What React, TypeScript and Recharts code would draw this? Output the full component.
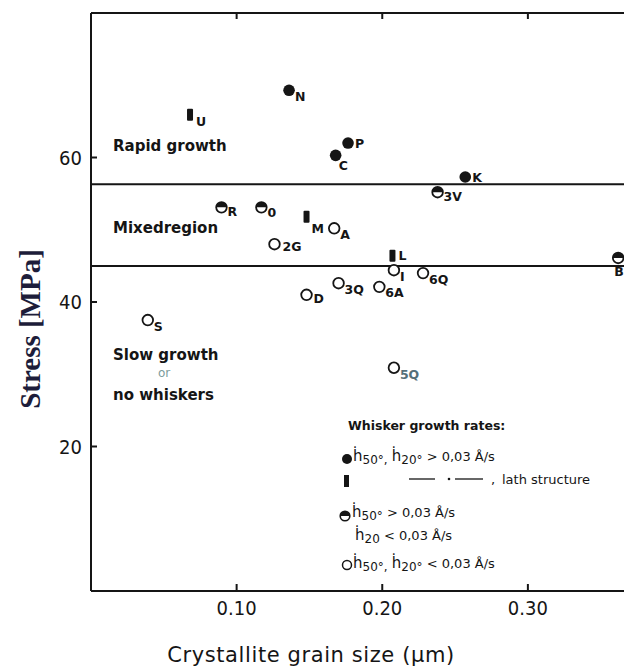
import React from 'react';
import { ScatterChart, Scatter, XAxis, YAxis, ReferenceLine } from 'recharts';

// grain size (um) vs stress (MPa)
const FILLED = [
  { id: 'N', size: 0.136, stress: 69.3 },
  { id: 'P', size: 0.1765, stress: 62.0 },
  { id: 'C', size: 0.168, stress: 60.3 },
  { id: 'K', size: 0.257, stress: 57.3 },
];
const LATH = [
  { id: 'U', size: 0.068, stress: 65.9 },
  { id: 'M', size: 0.148, stress: 51.8 },
  { id: 'L', size: 0.207, stress: 46.4 },
];
const HALF = [
  { id: '3V', size: 0.238, stress: 55.2 },
  { id: 'R', size: 0.0896, stress: 53.1 },
  { id: '0', size: 0.117, stress: 53.1 },
  { id: 'B', size: 0.362, stress: 46.1 },
];
const OPEN = [
  { id: 'A', size: 0.167, stress: 50.2 },
  { id: '2G', size: 0.126, stress: 48.0 },
  { id: 'I', size: 0.208, stress: 44.4 },
  { id: '6Q', size: 0.228, stress: 44.0 },
  { id: '3Q', size: 0.17, stress: 42.6 },
  { id: '6A', size: 0.198, stress: 42.1 },
  { id: 'D', size: 0.148, stress: 41.0 },
  { id: 'S', size: 0.039, stress: 37.5 },
  { id: '5Q', size: 0.208, stress: 30.9 },
];
const X_TICKS = [0.1, 0.2, 0.3];
const Y_TICKS = [20, 40, 60];
const REGION_BOUNDS = [56.3, 45.0];

const INK = '#151515';
const SANS = '"DejaVu Sans", sans-serif';
const COND = '"DejaVu Sans Condensed", "DejaVu Sans", sans-serif';

// label placement relative to the marker (default: lower right, like a subscript)
const LABEL_OFF: Record<string, [number, number]> = {
  P: [7, 5], K: [7, 5], L: [6, 4], C: [3, 15], M: [5, 16], B: [-4, 18],
  '2G': [8, 7], D: [7, 8], '6A': [6, 10], '3V': [6, 9], R: [6, 9], '0': [6, 10],
};

function Marker({ kind, cx, cy, payload }: any) {
  if (cx == null || cy == null) return null;
  const [dx, dy] = LABEL_OFF[payload.id] ?? [6, 11];
  let mark;
  if (kind === 'filled') mark = <circle cx={cx} cy={cy} r={5.8} fill={INK} />;
  else if (kind === 'lath') mark = <rect x={cx - 3} y={cy - 6} width={6} height={12} rx={1} fill={INK} />;
  else if (kind === 'half')
    mark = (
      <g>
        <circle cx={cx} cy={cy} r={5.3} fill="#fff" stroke={INK} strokeWidth={1.8} />
        <path d={`M ${cx - 5.3} ${cy} A 5.3 5.3 0 0 1 ${cx + 5.3} ${cy} Z`} fill={INK} />
      </g>
    );
  else mark = <circle cx={cx} cy={cy} r={5.3} fill="#fff" stroke={INK} strokeWidth={1.8} />;
  return (
    <g>
      {mark}
      <text x={cx + dx} y={cy + dy} fontFamily={SANS} fontSize={12.5} fontWeight="bold"
        fill={payload.id === '5Q' ? '#55707a' : INK}>
        {payload.id}
      </text>
    </g>
  );
}

function XTick({ x, y, payload }: any) {
  return (
    <g>
      <line x1={x} y1={y} x2={x} y2={y - 7} stroke={INK} strokeWidth={2} />
      <text x={x} y={y + 24} textAnchor="middle" fontFamily={COND} fontSize={20} fill={INK}>
        {payload.value.toFixed(2)}
      </text>
    </g>
  );
}

function TopTick({ x, y }: any) {
  return <line x1={x} y1={y} x2={x} y2={y + 6} stroke={INK} strokeWidth={2} />;
}

function YTick({ x, y, payload }: any) {
  return (
    <g>
      <line x1={x} y1={y} x2={x + 6} y2={y} stroke={INK} strokeWidth={2} />
      <text x={x - 9} y={y + 7} textAnchor="end" fontFamily={COND} fontSize={20} fill={INK}>
        {payload.value}
      </text>
    </g>
  );
}

// h-dot with subscript angle, as used in the legend
function Hdot({ sub }: { sub: string }) {
  return (
    <>
      <tspan fontSize={15}>ḣ</tspan>
      <tspan fontSize={12} dy={3}>{sub}</tspan>
      <tspan dy={-3}> </tspan>
    </>
  );
}

function Notes() {
  const t = { fontFamily: SANS, fill: INK } as const;
  const r = { fontFamily: SANS, fill: INK, fontWeight: 'bold', fontSize: 15 } as const;
  return (
    <svg width={624} height={672} style={{ position: 'absolute', left: 0, top: 0, pointerEvents: 'none' }}>
      <text x={113} y={151} {...r}>Rapid growth</text>
      <text x={113} y={233} {...r}>Mixedregion</text>
      <text x={113} y={360} {...r}>Slow growth</text>
      <text x={158} y={377} fontSize={12} fontFamily={SANS} fill="#7d9c9c">or</text>
      <text x={113} y={400} {...r}>no whiskers</text>

      <text x={348} y={430} fontSize={12.5} fontWeight="bold" {...t}>Whisker growth rates:</text>
      <circle cx={347} cy={459} r={5} fill={INK} />
      <text x={353} y={461} fontSize={13} {...t}>
        <Hdot sub="50°," />
        <tspan> </tspan>
        <Hdot sub="20°" />
        <tspan>&gt; 0,03 Å/s</tspan>
      </text>
      <rect x={344} y={475} width={5} height={12} fill={INK} />
      <line x1={409} y1={479} x2={435} y2={479} stroke={INK} strokeWidth={1.3} />
      <circle cx={449} cy={479} r={1.3} fill={INK} />
      <line x1={455} y1={479} x2={483} y2={479} stroke={INK} strokeWidth={1.3} />
      <text x={491} y={484} fontSize={13} {...t}>,</text>
      <text x={502} y={484} fontSize={13} {...t}>lath structure</text>
      <circle cx={345} cy={516} r={4.8} fill="#fff" stroke={INK} strokeWidth={1.6} />
      <path d="M 340.2 516 A 4.8 4.8 0 0 1 349.8 516 Z" fill={INK} />
      <text x={352} y={517} fontSize={13} {...t}>
        <Hdot sub="50°" />
        <tspan>&gt; 0,03 Å/s</tspan>
      </text>
      <text x={355} y={540} fontSize={13} {...t}>
        <Hdot sub="20" />
        <tspan> &lt; 0,03 Å/s</tspan>
      </text>
      <circle cx={347} cy={565} r={4.5} fill="#fff" stroke={INK} strokeWidth={1.5} />
      <text x={353} y={568} fontSize={13} {...t}>
        <Hdot sub="50°," />
        <tspan> </tspan>
        <Hdot sub="20°" />
        <tspan>&lt; 0,03 Å/s</tspan>
      </text>

      <text x={311} y={662} textAnchor="middle" fontSize={21} letterSpacing={0.6} {...t}>
        Crystallite grain size  (µm)
      </text>
      <text x={30} y={329} transform="rotate(-90 30 329)" textAnchor="middle" dominantBaseline="central"
        fontFamily='"Liberation Serif", serif' fontWeight="bold" fontSize={29} fill="#1d1d3a">
        Stress [MPa]
      </text>
    </svg>
  );
}

export default function App() {
  return (
    <div style={{ position: 'absolute', left: 0, top: 0, width: 624, height: 672, background: '#fff' }}>
      <ScatterChart width={624} height={672} margin={{ top: 0, right: 0, bottom: 0, left: 0 }}>
        <XAxis xAxisId="top" orientation="top" type="number" dataKey="size" domain={[0, 0.366]}
          ticks={X_TICKS} height={13} tickSize={0} tickMargin={0} tick={<TopTick />}
          axisLine={{ stroke: INK, strokeWidth: 2 }} tickLine={false} allowDataOverflow />
        <XAxis type="number" dataKey="size" domain={[0, 0.366]} ticks={X_TICKS} height={81}
          tickSize={0} tickMargin={0} tick={<XTick />} axisLine={{ stroke: INK, strokeWidth: 2 }}
          tickLine={false} allowDataOverflow />
        <YAxis type="number" dataKey="stress" domain={[0, 80]} ticks={Y_TICKS} width={91}
          tickSize={0} tickMargin={0} tick={<YTick />} axisLine={{ stroke: INK, strokeWidth: 2 }}
          tickLine={false} allowDataOverflow />
        {REGION_BOUNDS.map((v) => (
          <ReferenceLine key={v} y={v} stroke={INK} strokeWidth={2} />
        ))}
        <Scatter data={OPEN} isAnimationActive={false} shape={(p: any) => <Marker kind="open" {...p} />} />
        <Scatter data={HALF} isAnimationActive={false} shape={(p: any) => <Marker kind="half" {...p} />} />
        <Scatter data={LATH} isAnimationActive={false} shape={(p: any) => <Marker kind="lath" {...p} />} />
        <Scatter data={FILLED} isAnimationActive={false} shape={(p: any) => <Marker kind="filled" {...p} />} />
      </ScatterChart>
      <Notes />
    </div>
  );
}
